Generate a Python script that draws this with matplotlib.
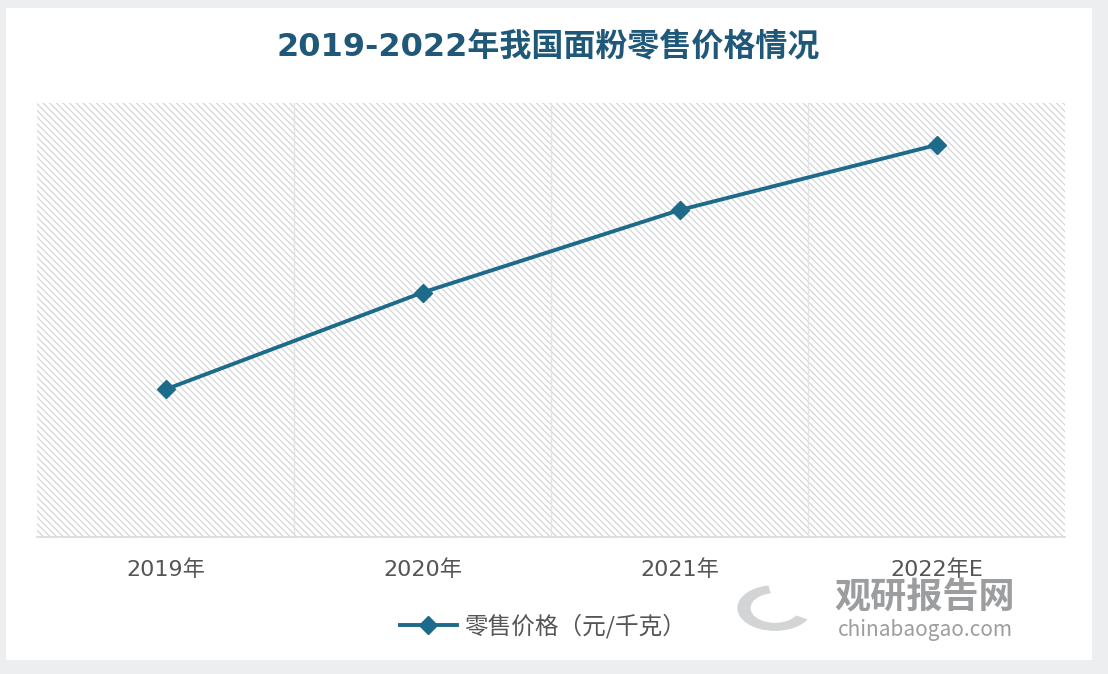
import matplotlib
matplotlib.use('Agg')
import matplotlib.pyplot as plt
from matplotlib.patches import Rectangle, Wedge

plt.rcParams['font.family'] = ['Noto Sans CJK SC', 'DejaVu Sans']
plt.rcParams['hatch.color'] = '#d4d6d8'
plt.rcParams['hatch.linewidth'] = 0.9

years = ['2019年', '2020年', '2021年', '2022年E']
prices = [4.52, 5.19, 5.76, 6.21]
series_name = '零售价格（元/千克）'
title = '2019-2022年我国面粉零售价格情况'

line_color = '#1d6a8a'
wide_font = ['DejaVu Sans', 'Noto Sans CJK SC']

fig = plt.figure(figsize=(11.08, 6.74), dpi=100, facecolor='#eceeef')
# white card behind everything
card = Rectangle((6 / 1108, 14 / 674), 1086 / 1108, 652 / 674,
                 transform=fig.transFigure, facecolor='white',
                 edgecolor='none', zorder=-5)
fig.patches.append(card)

ax = fig.add_axes([37 / 1108, 1 - 537 / 674, 1028 / 1108, 434 / 674])
ax.set_facecolor('white')
ax.add_patch(Rectangle((0, 0), 1, 1, transform=ax.transAxes, facecolor='white',
                       hatch='\\\\\\\\\\', edgecolor='#d4d6d8', linewidth=0, zorder=0))

x = list(range(len(years)))
ax.plot(x, prices, color=line_color, linewidth=2.8, marker='D', markersize=9,
        label=series_name, zorder=3)

ax.set_xlim(-0.5, len(years) - 0.5)
ax.set_ylim(3.5, 6.5)
ax.set_xticks(x)
ax.set_xticklabels(years, fontsize=16, color='#555555', family=wide_font)
ax.set_xticks([0.5, 1.5, 2.5], minor=True)
ax.grid(which='minor', axis='x', color='#e2e4e5', linewidth=1)
ax.set_axisbelow(False)
ax.tick_params(axis='x', which='both', length=0, pad=16)
ax.set_yticks([])
for s in ['top', 'left', 'right']:
    ax.spines[s].set_visible(False)
ax.spines['bottom'].set_color('#d9d9d9')
ax.spines['bottom'].set_linewidth(1.2)

fig.text(0.495, 1 - 47 / 674, title, ha='center', va='center', fontsize=23,
         fontweight='bold', color='#1f5878', family=wide_font)

leg = fig.legend(loc='center', bbox_to_anchor=(0.49, 1 - 626 / 674), frameon=False,
                 fontsize=17, handlelength=2.4, handletextpad=0.3)
for t in leg.get_texts():
    t.set_color('#555555')

# watermark
fig.patches.append(Wedge((775 / 1108, 1 - 608 / 674), 0.034, 100, 330, width=0.012,
                         transform=fig.transFigure, facecolor='#c8cacb',
                         edgecolor='none', alpha=0.8))
fig.text(0.835, 1 - 598 / 674, '观研报告网', ha='center', va='center', fontsize=26,
         fontweight='bold', color='#8a8c8e', alpha=0.85)
fig.text(0.835, 1 - 630 / 674, 'chinabaogao.com', ha='center', va='center',
         fontsize=15, color='#8a8c8e', alpha=0.85)

fig.savefig('out.png', dpi=100, facecolor=fig.get_facecolor())
